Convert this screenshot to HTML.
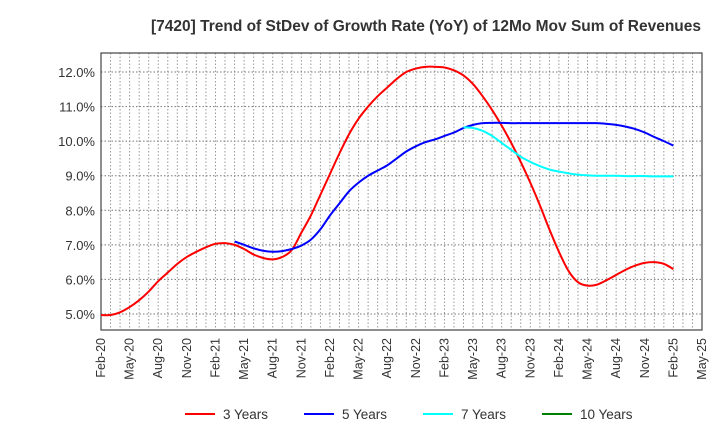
<!DOCTYPE html>
<html><head><meta charset="utf-8"><style>
body{margin:0;background:#fff;font-family:"Liberation Sans",Arial,sans-serif}
svg text{font-family:"Liberation Sans",Arial,sans-serif}
</style></head><body>
<svg id="chart" width="720" height="440" viewBox="0 0 720 440">
<text x="426" y="31" text-anchor="middle" font-size="15.5" font-weight="bold" fill="#333">[7420]  Trend of StDev of Growth Rate (YoY) of 12Mo Mov Sum of Revenues</text>
<g id="grid"></g>
<g id="axes"></g>
<g id="series"></g>
<g id="legend"></g>
</svg>
<script>
const xLabels=["Feb-20","May-20","Aug-20","Nov-20","Feb-21","May-21","Aug-21","Nov-21","Feb-22","May-22","Aug-22","Nov-22","Feb-23","May-23","Aug-23","Nov-23","Feb-24","May-24","Aug-24","Nov-24","Feb-25","May-25"];
const yTicks=[5,6,7,8,9,10,11,12];
const s3Start=0;
const s3=[4.97,4.97,5.05,5.2,5.4,5.65,5.95,6.2,6.45,6.65,6.8,6.93,7.03,7.05,7.0,6.88,6.72,6.62,6.58,6.65,6.85,7.35,7.85,8.45,9.05,9.65,10.2,10.65,11.0,11.3,11.55,11.8,12.0,12.1,12.15,12.15,12.13,12.05,11.9,11.65,11.3,10.9,10.45,9.95,9.4,8.8,8.15,7.45,6.8,6.25,5.92,5.82,5.85,5.98,6.13,6.28,6.4,6.48,6.5,6.45,6.3];
const s5Start=14;
const s5=[7.1,7.0,6.9,6.83,6.8,6.82,6.88,6.98,7.15,7.45,7.85,8.2,8.55,8.8,9.0,9.15,9.3,9.5,9.7,9.85,9.97,10.05,10.15,10.25,10.38,10.47,10.52,10.53,10.53,10.52,10.52,10.52,10.52,10.52,10.52,10.52,10.52,10.52,10.52,10.5,10.47,10.42,10.35,10.25,10.12,10.0,9.87];
const s7Start=38;
const s7=[10.4,10.38,10.3,10.15,9.95,9.75,9.55,9.4,9.28,9.18,9.12,9.07,9.03,9.01,9.0,9.0,9.0,8.99,8.99,8.99,8.98,8.98,8.98];
const s10=[];
const seriesNames=["3 Years","5 Years","7 Years","10 Years"];
const colors=["#ff0000","#0000ff","#00ffff","#008000"];
const L=101,R=702,T=53,B=330;
const x=i=>L+i*(R-L)/63;
const y=v=>314-(v-5)*34.57;
const NS="http://www.w3.org/2000/svg";
function mk(tag,attrs,parent){const e=document.createElementNS(NS,tag);for(const k in attrs)e.setAttribute(k,attrs[k]);parent.appendChild(e);return e;}
const grid=document.getElementById('grid'),axes=document.getElementById('axes'),ser=document.getElementById('series'),leg=document.getElementById('legend');
for(let i=1;i<63;i++){const g=mk('line',{x1:x(i),x2:x(i),y1:T,y2:B,stroke:'#999','stroke-dasharray':'1.5,2','stroke-width':1},grid);

}
yTicks.forEach(v=>{const g=mk('line',{x1:L,x2:R,y1:y(v),y2:y(v),stroke:'#777','stroke-dasharray':'1.5,2','stroke-width':1},grid);


const t=mk('text',{x:L-6,y:y(v)+5,'text-anchor':'end','font-size':13,fill:'#333'},axes);t.textContent=v.toFixed(1)+'%';

});
const fr=mk('rect',{x:L,y:T,width:R-L,height:B-T,fill:'none',stroke:'#444','stroke-width':1.2},axes);


xLabels.forEach((lab,k)=>{const px=x(k*3)+4;const t=mk('text',{x:px,y:B+8,'text-anchor':'end','font-size':12.5,fill:'#333',transform:`rotate(-90 ${px} ${B+8})`},axes);t.textContent=lab;

});
function path(arr,start){const p=arr.map((v,i)=>[x(start+i),y(v)]);if(p.length<2)return '';let d=`M${p[0][0]},${p[0][1]}`;
for(let i=0;i<p.length-1;i++){const p0=p[i-1]||p[i],p1=p[i],p2=p[i+1],p3=p[i+2]||p2;
d+=` C${p1[0]+(p2[0]-p0[0])/6},${p1[1]+(p2[1]-p0[1])/6} ${p2[0]-(p3[0]-p1[0])/6},${p2[1]-(p3[1]-p1[1])/6} ${p2[0]},${p2[1]}`;}return d;}
[[s3,s3Start],[s5,s5Start],[s7,s7Start],[s10,0]].forEach((s,k)=>{const d=path(s[0],s[1]);if(!d)return;
const e=mk('path',{d:d,fill:'none',stroke:colors[k],'stroke-width':2},ser);

});
const lx=[185,304,423,542];
seriesNames.forEach((n,k)=>{const g=mk('g',{},leg);


mk('line',{x1:lx[k],x2:lx[k]+30,y1:414,y2:414,stroke:colors[k],'stroke-width':2},g);
const t=mk('text',{x:lx[k]+38,y:419,'font-size':13.5,fill:'#333'},g);t.textContent=n;});
</script>
</body></html>
